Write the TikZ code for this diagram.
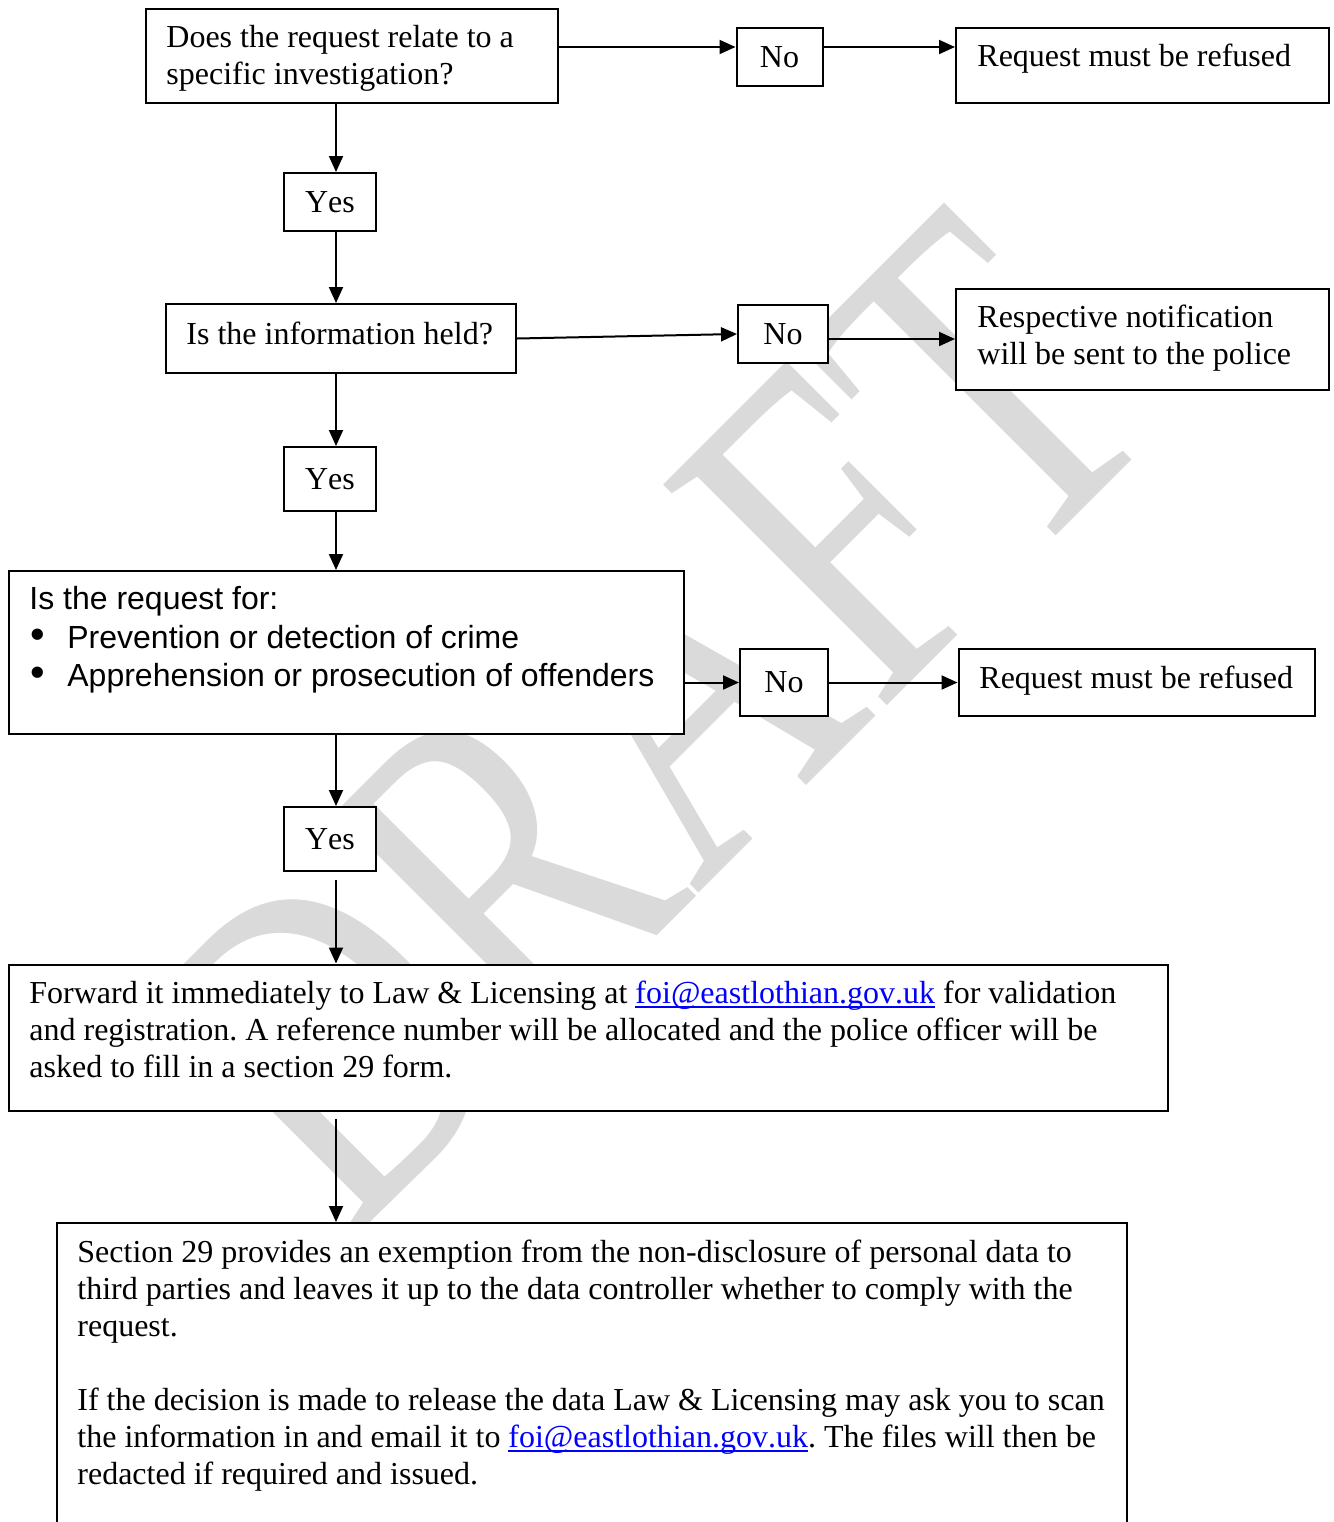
\documentclass[tikz,border=0pt]{standalone}
\usepackage{graphicx}
\usepackage{fontspec}
\setmainfont{Liberation Serif}[Ligatures={TeX,CommonOff},Kerning=Off]
\newfontfamily\listfont{Liberation Sans}[Ligatures=CommonOff,Kerning=Off]
\newfontfamily\draftfont{Liberation Serif}[Kerning=Off]
\usetikzlibrary{arrows.meta}
\frenchspacing

\definecolor{linkblue}{RGB}{0,0,255}
\definecolor{draftgray}{RGB}{218,218,218}

% underlined e-mail address
\newsavebox\linkbox
\newcommand\weblink[1]{\sbox\linkbox{#1}\textcolor{linkblue}{\rlap{\rule[-2pt]{\wd\linkbox}{0.8pt}}#1}}

\begin{document}
\begin{tikzpicture}[x=0.5pt,y=-0.5pt,
  frame/.style={draw,line width=1pt,fill=white,inner sep=0pt,anchor=north west},
  answer/.style={frame,font=\fontsize{16}{18.5}\selectfont},
  body/.style={inner sep=0pt,anchor=base west,font=\fontsize{16}{18.5}\selectfont},
  listbody/.style={inner sep=0pt,anchor=base west,font=\listfont\fontsize{16}{19.25}\selectfont},
  flow/.style={line width=1pt,-{Triangle[length=8pt,width=7pt]}},
  draftmark/.style={rotate=45,text=draftgray,inner sep=0pt,font=\draftfont\fontsize{240}{240}\selectfont}
]
\useasboundingbox (0,0) rectangle (1334,1522);

% background watermark
\node[draftmark] (draft) at (648,721) {\scalebox{0.74}[1]{DRAFT}};

\coordinate (spine) at (336,0);
\coordinate (row1) at (0,47);

% first question
\node[frame,minimum width=206pt,minimum height=47pt] (q1) at (145,8) {};
\node[body] (q1t) at (166,47.5) {\begin{tabular}[t]{@{}l@{}}Does the request relate to a\\specific investigation?\end{tabular}};
\node[answer,minimum width=43pt,minimum height=29pt] (no1) at (735.5,27) {No};
\node[frame,minimum width=186.5pt,minimum height=37.5pt] (r1) at (955,27) {};
\node[body] (r1t) at (977,66.5) {Request must be refused};
\node[answer,minimum width=46pt,minimum height=29pt] (y1) at (283,172) {Yes};

% second question
\node[frame,minimum width=175pt,minimum height=34.5pt] (q2) at (165,303) {};
\node[body] (q2t) at (186,344.5) {Is the information held?};
\node[answer,minimum width=45pt,minimum height=29pt] (no2) at (737,304) {No};
\node[frame,minimum width=186.5pt,minimum height=50.5pt] (n2) at (955,287.5) {};
\node[body] (n2t) at (977,327.5) {\begin{tabular}[t]{@{}l@{}}Respective notification\\will be sent to the police\end{tabular}};
\node[answer,minimum width=46pt,minimum height=32pt] (y2) at (283,446) {Yes};

% third question
\node[frame,minimum width=337.5pt,minimum height=81.5pt] (q3) at (8,570) {};
\node[listbody] (q3t) at (29,609.5) {\begin{tabular}[t]{@{}l@{}}Is the request for:\\
  \makebox[19pt][l]{\hspace{0.5pt}\scalebox{1.3}{•}}Prevention or detection of crime\\
  \makebox[19pt][l]{\hspace{0.5pt}\scalebox{1.3}{•}}Apprehension or prosecution of offenders\end{tabular}};
\node[answer,minimum width=44pt,minimum height=33.5pt] (no3) at (739,648) {No};
\node[frame,minimum width=178pt,minimum height=33.5pt] (r2) at (957.5,648) {};
\node[body] (r2t) at (979,688.5) {Request must be refused};
\node[answer,minimum width=46pt,minimum height=32pt] (y3) at (283,806) {Yes};

% forwarding step
\node[frame,minimum width=579.25pt,minimum height=73.25pt] (q4) at (8,963.5) {};
\node[body] (q4t) at (29,1003.5) {\begin{tabular}[t]{@{}l@{}}Forward it immediately to Law \& Licensing at \weblink{foi@eastlothian.gov.uk} for validation\\
  and registration. A reference number will be allocated and the police officer will be\\
  asked to fill in a section 29 form.\end{tabular}};

% section 29 explanation (runs on past the lower edge)
\node[frame,minimum width=535pt,minimum height=160pt] (q5) at (56,1222) {};
\node[body] (q5t) at (77,1262.5) {\begin{tabular}[t]{@{}l@{}}Section 29 provides an exemption from the non-disclosure of personal data to\\
  third parties and leaves it up to the data controller whether to comply with the\\
  request.\\
  \\
  If the decision is made to release the data Law \& Licensing may ask you to scan\\
  the information in and email it to \weblink{foi@eastlothian.gov.uk}. The files will then be\\
  redacted if required and issued.\end{tabular}};

% connectors
\draw[flow] (q1.east |- row1) -- (no1.west |- row1);
\draw[flow] (no1.east |- row1) -- (r1.west |- row1);
\draw[flow] (q1.south -| spine) -- (y1.north -| spine);
\draw[flow] (y1.south -| spine) -- (q2.north -| spine);

\draw[flow] (q2.east) -- (no2.west);
\draw[flow] (no2.east |- n2.west) -- (n2.west);
\draw[flow] (q2.south -| spine) -- (y2.north -| spine);
\draw[flow] (y2.south -| spine) -- (q3.north -| spine);

\draw[flow] (q3.east |- no3.west) -- (no3.west);
\draw[flow] (no3.east) -- (no3.east -| r2.west);
\draw[flow] (q3.south -| spine) -- (y3.north -| spine);

\coordinate (y3gap) at ([yshift=-4pt]y3.south);
\draw[flow] (y3gap -| spine) -- (q4.north -| spine);
\coordinate (q4gap) at ([yshift=-3.5pt]q4.south);
\draw[flow] (q4gap -| spine) -- (q5.north -| spine);
\end{tikzpicture}
\end{document}
